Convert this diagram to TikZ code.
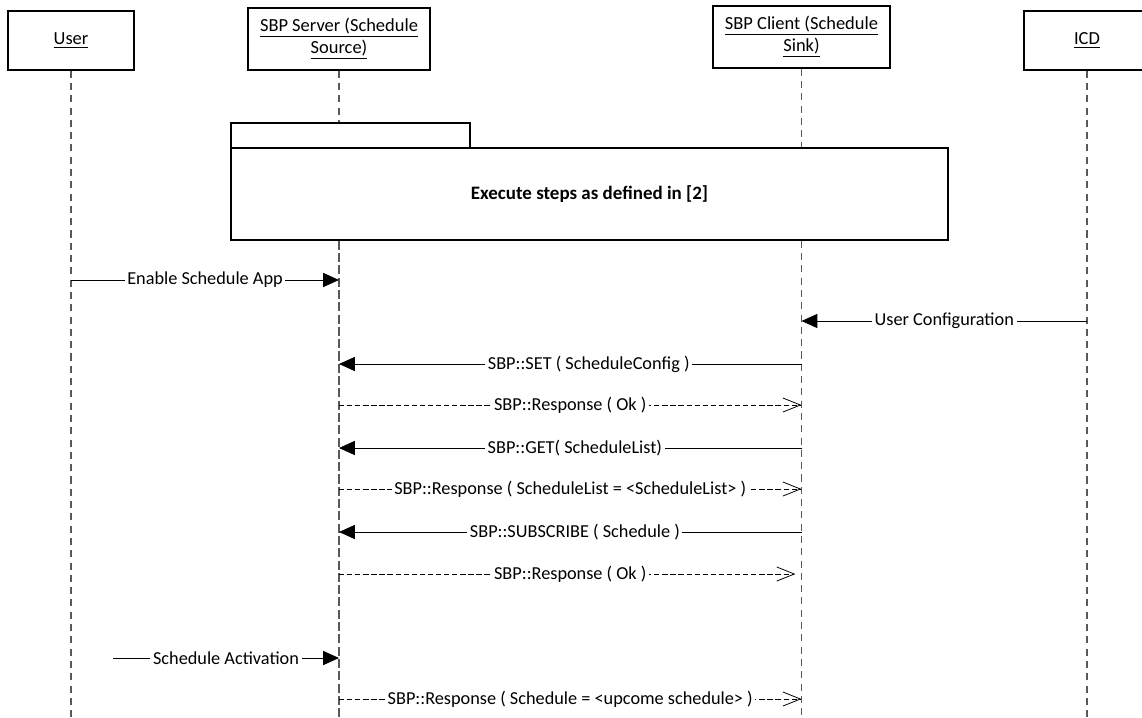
\documentclass[tikz,border=0pt]{standalone}
\usepackage{fontspec}
\setmainfont{Carlito}
\usetikzlibrary{arrows.meta}

\tikzset{
    actor/.style={draw, line width=0.7pt, align=center, font=\fontsize{10.5}{12.5}\selectfont},
    lifeline/.style={line width=0.6pt, dash pattern=on 4pt off 3pt, gray!70!black},
    call/.style={line width=0.5pt, -{Triangle[length=9pt,width=8pt]}},
    reply/.style={line width=0.45pt, dash pattern=on 3pt off 1.6pt, -{Straight Barb[length=10pt,width=8pt]}},
    msg/.style={fill=white, inner sep=1.5pt, font=\fontsize{10.4}{12}\selectfont},
    frame/.style={draw, line width=0.9pt}
}

\begin{document}
\begin{tikzpicture}[x=0.02cm, y=-0.02cm]
    \useasboundingbox (0,0) rectangle (1142,717);
    \begin{scope}
        \clip (0,0) rectangle (1142,717);

        % participants
        \node[actor, minimum width=2.52cm, minimum height=1.18cm] (user) at (71,40.5) {\underline{User}};
        \node[actor, minimum width=3.64cm, minimum height=1.24cm] (server) at (339,39)
            {\underline{SBP Server (Schedule}\\\underline{Source)}};
        \node[actor, minimum width=3.54cm, minimum height=1.24cm] (client) at (801.5,37)
            {\underline{SBP Client (Schedule}\\\underline{Sink)}};
        \node[actor, minimum width=2.52cm, minimum height=1.18cm] (icd) at (1087,40.5) {\underline{ICD}};

        \foreach \p in {user, server, client, icd}
            \draw[lifeline] (\p.south) -- (\p.south |- 0,717);

        % reference frame
        \node[frame, fill=white, minimum width=14.34cm, minimum height=1.84cm] (ref) at (589.5,194)
            {\fontsize{10.8}{12}\selectfont\bfseries Execute steps as defined in [2]};
        \node[frame, fill=white, minimum width=4.78cm, minimum height=0.5cm] (reftab) at (350.5,135.5) {};
        \draw[lifeline] (server |- ref.south) -- (server |- 0,717);
        \draw[lifeline] (client |- ref.south) -- (client |- 0,717);

        % messages
        \draw[call] (user |- 0,280) -- node[msg]{Enable Schedule App} (server |- 0,280);
        \draw[call] (icd |- 0,321) -- node[msg]{User Configuration} (client |- 0,321);
        \draw[call] (client |- 0,364) -- node[msg, pos=0.46]{SBP::SET ( ScheduleConfig )} (server |- 0,364);
        \draw[reply] (server |- 0,405) -- node[msg]{SBP::Response ( Ok )} (client |- 0,405);
        \draw[call] (client |- 0,448) -- node[msg, pos=0.49]{SBP::GET( ScheduleList)} (server |- 0,448);
        \draw[reply] (server |- 0,489) -- node[msg]{SBP::Response ( ScheduleList = <ScheduleList> )} (client |- 0,489);
        \draw[call] (client |- 0,532) -- node[msg, pos=0.49]{SBP::SUBSCRIBE ( Schedule )} (server |- 0,532);
        \draw[reply, shorten >=3.5pt] (server |- 0,574) -- node[msg]{SBP::Response ( Ok )} (client |- 0,574);

        \coordinate (trigger) at (113,658);
        \draw[call] (trigger) -- node[msg]{Schedule Activation} (server |- trigger);
        \draw[reply] (server |- 0,699) -- node[msg]{SBP::Response ( Schedule = <upcome schedule> )} (client |- 0,699);
    \end{scope}
\end{tikzpicture}
\end{document}
